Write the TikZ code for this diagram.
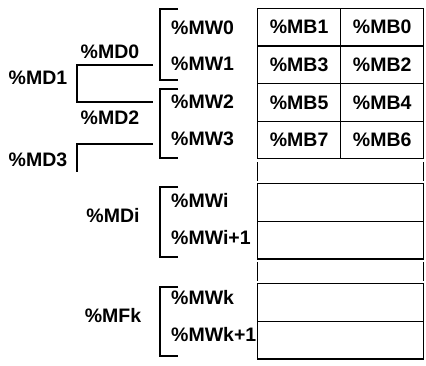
\documentclass[tikz,border=0pt]{standalone}
\usepackage{fontspec}
\setmainfont{Liberation Sans}
\usepackage{tikz}
\tikzstyle{cell} = [draw=black, line width=1.3, rectangle, inner sep=0, minimum width=83.2, minimum height=37.6]
\tikzstyle{wide} = [cell, minimum width=166.2]
\tikzstyle{word} = [anchor=west, inner sep=0]
\tikzstyle{dword} = [inner sep=0]
\tikzstyle{brace} = [draw=black, line width=1.3]

\begin{document}
\begin{tikzpicture}[x=1pt, y=-1pt, font=\fontsize{19.5}{22}\selectfont\bfseries]
        % Bounding box
        \useasboundingbox (0,0) rectangle (426,366);

        % Byte cells
        \node[cell] (b1) at (299.1,27.2)  {\%MB1};
        \node[cell] (b0) at (382.2,27.2)  {\%MB0};
        \node[cell] (b3) at (299.1,64.8)  {\%MB3};
        \node[cell] (b2) at (382.2,64.8)  {\%MB2};
        \node[cell] (b5) at (299.1,102.4) {\%MB5};
        \node[cell] (b4) at (382.2,102.4) {\%MB4};
        \node[cell] (b7) at (299.1,140)   {\%MB7};
        \node[cell] (b6) at (382.2,140)   {\%MB6};

        % Word cells further down
        \node[wide] (wi)  at (340.6,202.6) {};
        \node[wide] (wi1) at (340.6,240.2) {};
        \node[wide] (wk)  at (340.6,302.6) {};
        \node[wide] (wk1) at (340.6,340.2) {};

        % Gaps in the table
        \draw[brace] (257.5,162.5) -- (257.5,181);
        \draw[brace] (423.7,162.5) -- (423.7,181);
        \draw[brace] (257.5,262.5) -- (257.5,281);
        \draw[brace] (423.7,262.5) -- (423.7,281);

        % Words
        \node[word] (w0)  at (171,28)  {\%MW0};
        \node[word] (w1)  at (171,64)  {\%MW1};
        \node[word] (w2)  at (171,102) {\%MW2};
        \node[word] (w3)  at (171,139) {\%MW3};
        \node[word] (mwi)  at (171,201) {\%MWi};
        \node[word] (mwi1) at (171,238) {\%MWi+1};
        \node[word] (mwk)  at (171,298) {\%MWk};
        \node[word] (mwk1) at (171,335) {\%MWk+1};

        % Double words
        \node[dword] (d0) at (110,52)  {\%MD0};
        \node[dword] (d1) at (38,78)   {\%MD1};
        \node[dword] (d2) at (110,118) {\%MD2};
        \node[dword] (d3) at (38,160)  {\%MD3};
        \node[dword] (di) at (113,216) {\%MDi};
        \node[dword] (fk) at (113,316) {\%MFk};

        % Brackets round the words
        \draw[brace] (178,9) -- (160,9) -- (160,80) -- (178,80);
        \draw[brace] (178,89) -- (160,89) -- (160,158) -- (178,158);
        \draw[brace] (178,187) -- (160,187) -- (160,257) -- (178,257);
        \draw[brace] (178,287) -- (160,287) -- (160,356) -- (178,356);

        % Brackets for the double words
        \draw[brace] (153,65) -- (77,65) -- (77,102) -- (153,102);
        \draw[brace] (153,144) -- (77,144) -- (77,172);

    \end{tikzpicture}
\end{document}
